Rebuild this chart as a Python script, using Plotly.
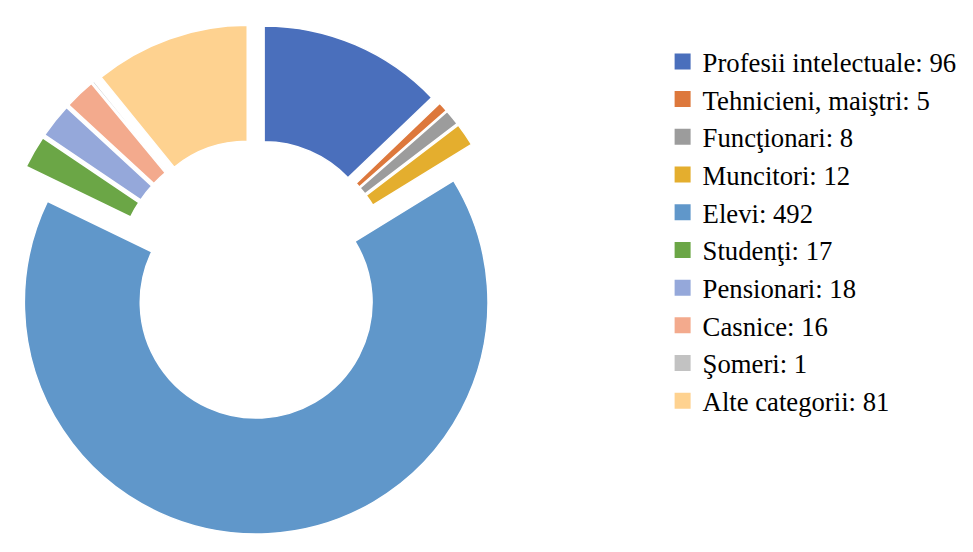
import plotly.graph_objects as go

categories = ["Profesii intelectuale", "Tehnicieni, maiştri", "Funcţionari", "Muncitori",
              "Elevi", "Studenţi", "Pensionari", "Casnice", "Şomeri", "Alte categorii"]
values = [96, 5, 8, 12, 492, 17, 18, 16, 1, 81]
colors = ["#4a6fbc", "#dd783c", "#9c9c9c", "#e4ae2e", "#6097ca",
          "#6ba646", "#95a8da", "#f3aa8d", "#c2c2c2", "#fed290"]

W, H = 973, 552
pie_right = 510 / W
pull = 0.1
serif = "Times New Roman, Liberation Serif, DejaVu Serif, serif"

fig = go.Figure()
fig.add_trace(go.Pie(
    labels=categories, values=values, sort=False, direction="clockwise",
    rotation=0, hole=0.5, pull=[pull] * len(values),
    marker=dict(colors=colors, line=dict(color="white", width=1.5)),
    textinfo="none", hoverinfo="label+value", showlegend=False,
    domain=dict(x=[0, pie_right], y=[0, 0.989]),
))

for i, (c, v) in enumerate(zip(categories, values)):
    fig.add_trace(go.Scatter(
        x=[None], y=[None], mode="markers", name=f"{c}: {v}",
        marker=dict(symbol="square", size=16, color=colors[i]),
        legendgroup=f"g{i}", showlegend=True, hoverinfo="skip",
    ))

fig.update_layout(
    width=W, height=H, margin=dict(l=0, r=0, t=0, b=0),
    paper_bgcolor="white", plot_bgcolor="white",
    font=dict(family=serif, color="black"),
    xaxis=dict(visible=False), yaxis=dict(visible=False),
    legend=dict(x=0.681, y=0.932, xanchor="left", yanchor="top",
                font=dict(size=26.7, family=serif, color="black"),
                traceorder="grouped", tracegroupgap=0, itemsizing="trace",
                bgcolor="rgba(0,0,0,0)"),
)

fig.write_html("out.html", config={"displayModeBar": False},
               post_script="document.body.style.margin='0';")
